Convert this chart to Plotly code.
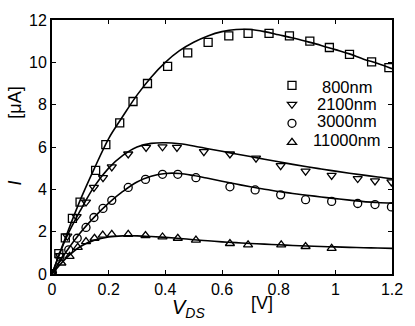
import plotly.graph_objects as go

# measured points (V, uA)
v_800 = [0, 0.024, 0.047, 0.072, 0.099, 0.154, 0.19, 0.239, 0.286, 0.337, 0.408, 0.479, 0.551, 0.624,
         0.692, 0.766, 0.838, 0.91, 0.979, 1.05, 1.128, 1.189]
i_800 = [0, 0.96, 1.71, 2.63, 3.4, 4.9, 6.11, 7.14, 8.15, 9.0, 9.81, 10.45, 10.94, 11.25,
         11.37, 11.37, 11.25, 11.0, 10.7, 10.38, 10.02, 9.75]

v_2100 = [0, 0.028, 0.054, 0.087, 0.12, 0.148, 0.18, 0.211, 0.269, 0.332, 0.39, 0.441, 0.536, 0.628,
          0.72, 0.807, 0.895, 0.987, 1.079, 1.14, 1.198]
i_2100 = [0, 0.87, 1.79, 2.71, 3.4, 4.09, 4.55, 5.06, 5.67, 5.98, 6.01, 5.98, 5.78, 5.67,
          5.47, 5.12, 4.86, 4.66, 4.51, 4.4, 4.35]

v_3000 = [0, 0.028, 0.059, 0.089, 0.12, 0.148, 0.18, 0.211, 0.269, 0.33, 0.39, 0.444, 0.508, 0.628,
          0.717, 0.807, 0.895, 0.987, 1.079, 1.14, 1.198]
i_3000 = [0, 0.8, 1.14, 1.69, 2.2, 2.67, 3.1, 3.48, 4.09, 4.47, 4.71, 4.71, 4.55, 4.12,
          3.97, 3.74, 3.51, 3.43, 3.33, 3.28, 3.17]

v_11000 = [0, 0.033, 0.062, 0.091, 0.12, 0.15, 0.179, 0.211, 0.269, 0.33, 0.39, 0.444, 0.508, 0.628,
           0.692, 0.809, 0.895, 0.987]
i_11000 = [0, 0.52, 0.83, 1.26, 1.53, 1.69, 1.84, 1.87, 1.87, 1.82, 1.75, 1.69, 1.6, 1.44,
           1.38, 1.38, 1.3, 1.21]

# model curves
v_fit = [0, 0.05, 0.1, 0.15, 0.2, 0.25, 0.3, 0.35, 0.4, 0.45, 0.5, 0.55, 0.6, 0.65, 0.7, 0.75,
         0.8, 0.85, 0.9, 0.95, 1.0, 1.05, 1.1, 1.15, 1.2]
fit_800 = [0, 1.8, 3.5, 5.0, 6.4, 7.45, 8.45, 9.3, 10.0, 10.55, 10.95, 11.25, 11.45, 11.55, 11.55,
           11.45, 11.3, 11.15, 10.98, 10.8, 10.6, 10.4, 10.15, 9.95, 9.7]
fit_2100 = [0, 1.7, 3.0, 4.15, 5.0, 5.6, 6.0, 6.17, 6.2, 6.15, 6.05, 5.92, 5.8, 5.67, 5.55,
            5.42, 5.3, 5.18, 5.07, 4.96, 4.86, 4.76, 4.67, 4.58, 4.5]
fit_3000 = [0, 1.05, 1.95, 2.7, 3.35, 3.9, 4.35, 4.62, 4.75, 4.75, 4.65, 4.52, 4.38, 4.25, 4.12,
            4.0, 3.9, 3.8, 3.72, 3.64, 3.56, 3.49, 3.42, 3.38, 3.35]
fit_11000 = [0, 0.75, 1.3, 1.6, 1.75, 1.8, 1.8, 1.77, 1.73, 1.68, 1.62, 1.57, 1.52, 1.48, 1.44,
             1.41, 1.38, 1.35, 1.32, 1.3, 1.28, 1.26, 1.24, 1.23, 1.21]

labels = ["800nm", "2100nm", "3000nm", "11000nm"]
symbols = ["square-open", "triangle-down-open", "circle-open", "triangle-up-open"]

fig = go.Figure()

for fy in [fit_800, fit_2100, fit_3000, fit_11000]:
    fig.add_trace(go.Scatter(x=v_fit, y=fy, mode="lines", line=dict(color="black", width=1.6, shape="spline"),
                             showlegend=False, hoverinfo="skip"))

# legend shows only the symbols, the (centred) names are annotations
for vx, iy, lab, sym in zip([v_800, v_2100, v_3000, v_11000], [i_800, i_2100, i_3000, i_11000],
                            labels, symbols):
    fig.add_trace(go.Scatter(x=vx, y=iy, mode="markers", name="&nbsp;", hovertext=lab,
                             marker=dict(symbol=sym, size=8, color="black", line=dict(width=1.3, color="black"))))

axis_style = dict(showline=True, linecolor="black", linewidth=2, mirror="ticks", ticks="inside",
                  ticklen=4, tickwidth=1, tickcolor="black", showgrid=False, zeroline=False,
                  tickfont=dict(family="Liberation Sans", size=16, color="black"))

fig.update_xaxes(range=[0, 1.2], tickvals=[0, 0.2, 0.4, 0.6, 0.8, 1, 1.2],
                 ticktext=["0", "0.2", "0.4", "0.6", "0.8", "1", "1.2"], **axis_style)
fig.update_yaxes(range=[0, 12], tickvals=[0, 2, 4, 6, 8, 10, 12], **axis_style)

annots = [
    dict(text="<i>V</i><sub><i>DS</i></sub>", xref="paper", yref="paper", x=0.402, y=-0.136,
         xanchor="center", yanchor="middle", showarrow=False, font=dict(size=20)),
    dict(text="[V]", xref="paper", yref="paper", x=0.618, y=-0.115,
         xanchor="center", yanchor="middle", showarrow=False, font=dict(size=18)),
    dict(text="[μA]", xref="paper", yref="paper", x=-0.109, y=0.674, textangle=-90,
         xanchor="center", yanchor="middle", showarrow=False, font=dict(size=18)),
    dict(text="<i>I</i>", xref="paper", yref="paper", x=-0.109, y=0.36, textangle=-90,
         xanchor="center", yanchor="middle", showarrow=False, font=dict(size=18)),
]
for lab, ly in zip(labels, [0.738, 0.668, 0.601, 0.527]):
    annots.append(dict(text=lab, xref="paper", yref="paper", x=0.868, y=ly, xanchor="center",
                       yanchor="middle", showarrow=False, font=dict(size=16.5)))

fig.update_layout(
    width=415, height=326,
    margin=dict(l=52, r=15, t=13, b=52),
    plot_bgcolor="white", paper_bgcolor="white",
    font=dict(family="Liberation Sans", size=16, color="black"),
    legend=dict(x=0.647, y=0.80, xanchor="left", yanchor="top", bgcolor="rgba(0,0,0,0)",
                font=dict(size=11), itemwidth=30, tracegroupgap=0),
    annotations=annots,
)

fig.write_html("out.html", config={"displayModeBar": False},
               post_script="document.body.style.margin='0';"
                           "document.getElementById('{plot_id}').parentElement.style.fontSize='0';"
                           "document.getElementById('{plot_id}').parentElement.style.lineHeight='0';")
